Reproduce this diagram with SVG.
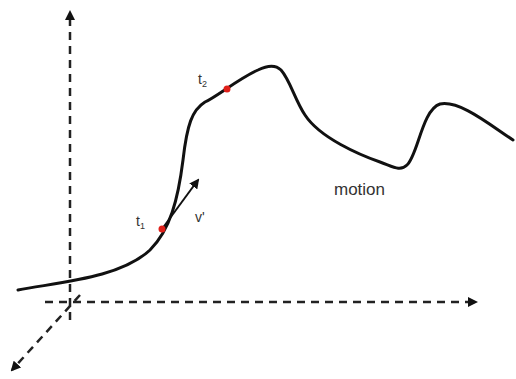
<svg xmlns="http://www.w3.org/2000/svg" width="516" height="379" viewBox="0 0 516 379">
<defs>
<marker id="ah" viewBox="0 0 10 10" refX="8" refY="5" markerWidth="4" markerHeight="4" orient="auto" markerUnits="strokeWidth">
<path d="M0,0 L10,5 L0,10 z" fill="#111"/>
</marker>
<marker id="ah2" viewBox="0 0 10 10" refX="8" refY="5" markerWidth="5" markerHeight="5" orient="auto" markerUnits="strokeWidth">
<path d="M0,0 L10,5 L0,10 z" fill="#111"/>
</marker>
<style>
.axis{fill:none;stroke:#222;stroke-width:2.5;stroke-dasharray:8 6}
.curve{fill:none;stroke:#111;stroke-width:3;stroke-linecap:round}
.lbl{font-family:"Liberation Sans",Arial,sans-serif;fill:#333}
</style>
</defs>
<rect width="516" height="379" fill="#fff"/>
<g id="connectors">
<line class="axis" x1="70" y1="320" x2="70" y2="12" marker-end="url(#ah)"/>
<line class="axis" x1="45" y1="302" x2="476" y2="302" marker-end="url(#ah)"/>
<line class="axis" x1="80" y1="295" x2="12" y2="370" marker-end="url(#ah)"/>
<path id="motion-curve" class="curve" d="M18,290 C60,282 120,278 150,250 C170,230 178,200 183,160 C187,125 192,110 205,102 C216,97 240,78 258,70 C268,65 276,65 281,70 C290,80 295,100 305,115 C320,138 360,155 380,162 C392,166 400,172 407,165 C418,155 422,110 440,104 C460,100 490,125 513,140"/>
<line x1="162" y1="229" x2="198" y2="180" stroke="#111" stroke-width="2" marker-end="url(#ah2)"/>
</g>
<g id="t1">
<circle cx="162" cy="229" r="3.5" fill="#e0201a"/>
<text class="lbl" x="136" y="226" font-size="14">t<tspan font-size="9" dy="3">1</tspan></text>
</g>
<g id="t2">
<circle cx="227" cy="89" r="3.5" fill="#e0201a"/>
<text class="lbl" x="198" y="84" font-size="14">t<tspan font-size="9" dy="3">2</tspan></text>
</g>
<g id="v">
<text class="lbl" x="195" y="222" font-size="14">v'</text>
</g>
<g id="motion">
<text class="lbl" x="334" y="195" font-size="17">motion</text>
</g>
</svg>
